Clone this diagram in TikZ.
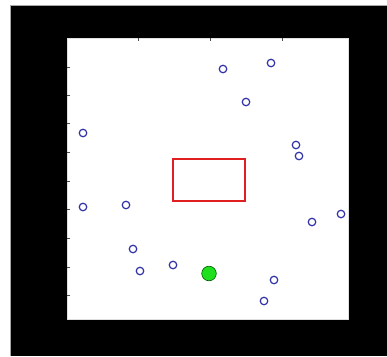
\documentclass[tikz,border=0pt]{standalone}
\usepackage{tikz}
\usetikzlibrary{positioning}
\definecolor{ink}{HTML}{000000}
\definecolor{ptblue}{HTML}{3232A8}
\definecolor{goal}{HTML}{1EE01E}
\definecolor{boxred}{HTML}{E02020}

\begin{document}
\begin{tikzpicture}[x=1pt, y=-1pt,
      obst/.style={circle, draw=ptblue, line width=1.2pt, minimum size=7.5pt, inner sep=0pt},
      robot/.style={circle, draw=green!35!black, fill=goal, line width=0.6pt,
                    minimum size=14.6pt, inner sep=0pt},
      regionbox/.style={draw=boxred, line width=1.5pt},
      tickmark/.style={gray!60!black, line width=0.5pt}]
    \useasboundingbox (0,0) rectangle (387,356);
    \fill[white] (0,0) rectangle (387,356);
    \fill[ink] (10.7,5) rectangle (387,356);
    \draw[gray!70, line width=0.6pt] (10.7,356) -- (10.7,5) -- (387,5);
    \node[fill=white, draw=gray!25, line width=0.4pt, minimum width=281pt, minimum height=281pt,
          inner sep=0pt, anchor=north west] (plot) at (67,38) {};
    % axis ticks
    \foreach \tx in {138,210,282} \draw[tickmark] (\tx,38) -- (\tx,41);
    \foreach \ty in {67,95,123,152,181,209,238,267,295} \draw[tickmark] (67,\ty) -- (70,\ty);
    % obstacles
    \foreach \px/\py [count=\i] in {223/69, 271/63, 246/102, 83/133, 296/145, 299/156,
        83/207, 126/205, 312/222, 341/214, 133/249, 140/271, 173/265, 274/280, 264/301}
      \node[obst] (o\i) at (\px,\py) {};
    \coordinate (area nw) at (173,159);
    \coordinate (area se) at (245,201);
    \draw[regionbox] (area nw) rectangle (area se);
    \node[robot] (start) at (209,273.5) {};
  \end{tikzpicture}
\end{document}
